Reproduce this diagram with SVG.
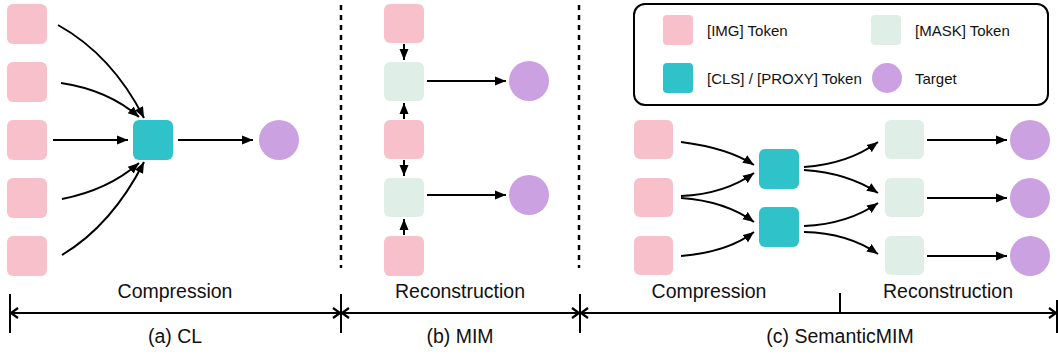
<svg xmlns="http://www.w3.org/2000/svg" width="1058" height="354" viewBox="0 0 1058 354">
<defs>
<style>
.img{fill:#F7C0CA}
.mask{fill:#DFEEE6}
.cls{fill:#2FC3C9}
.tgt{fill:#CBA1E1}
.t{font-family:"Liberation Sans",Arial,sans-serif;fill:#111}
.lbl{font-size:19.5px;text-anchor:middle}
.lg{font-size:15px}
.ar{fill:none;stroke:#000;stroke-width:2;marker-end:url(#ah)}
.dim{fill:none;stroke:#000;stroke-width:2}
.dash{stroke:#000;stroke-width:2.5;stroke-dasharray:5 5}
</style>
<marker id="ah" markerUnits="userSpaceOnUse" markerWidth="12" markerHeight="10" viewBox="0 0 12 10" refX="11" refY="5" orient="auto">
<path d="M0,0.5 L11,5 L0,9.5 Z" fill="#000"/>
</marker>
<marker id="ch" markerUnits="userSpaceOnUse" markerWidth="12" markerHeight="12" viewBox="0 0 12 12" refX="10" refY="6" orient="auto-start-reverse">
<path d="M3,1 L10,6 L3,11" fill="none" stroke="#000" stroke-width="2.2"/>
</marker>
</defs>
<rect width="1058" height="354" fill="#fff"/>

<g id="panel-a">
<rect class="img" x="7" y="4" width="40" height="40" rx="6"/>
<rect class="img" x="7" y="62" width="40" height="40" rx="6"/>
<rect class="img" x="7" y="120" width="40" height="40" rx="6"/>
<rect class="img" x="7" y="178" width="40" height="40" rx="6"/>
<rect class="img" x="7" y="236" width="40" height="40" rx="6"/>
<rect id="a-cls" class="cls" x="133" y="120" width="40" height="40" rx="6"/>
<circle id="a-tgt" class="tgt" cx="279" cy="140" r="20"/>
</g>

<g id="panel-b">
<rect class="img" x="384" y="4" width="40" height="39" rx="6"/>
<rect class="mask" x="384" y="62" width="40" height="39" rx="6"/>
<rect class="img" x="384" y="120" width="40" height="39" rx="6"/>
<rect class="mask" x="384" y="178" width="40" height="39" rx="6"/>
<rect class="img" x="384" y="236" width="40" height="40" rx="6"/>
<circle class="tgt" cx="529" cy="81" r="20"/>
<circle class="tgt" cx="529" cy="195" r="20"/>
</g>

<g id="panel-c">
<rect class="img" x="634" y="120" width="39" height="39" rx="6"/>
<rect class="img" x="634" y="178" width="39" height="39" rx="6"/>
<rect class="img" x="634" y="236" width="39" height="39" rx="6"/>
<rect class="cls" x="759" y="149" width="40" height="40" rx="6"/>
<rect class="cls" x="759" y="207" width="40" height="40" rx="6"/>
<rect class="mask" x="885" y="120" width="39" height="39" rx="6"/>
<rect class="mask" x="885" y="178" width="39" height="39" rx="6"/>
<rect class="mask" x="885" y="236" width="39" height="39" rx="6"/>
<circle class="tgt" cx="1030" cy="140" r="20"/>
<circle class="tgt" cx="1030" cy="198" r="20"/>
<circle class="tgt" cx="1030" cy="256" r="20"/>
</g>

<g id="legend">
<rect x="634" y="4" width="414" height="101" rx="11" fill="#fff" stroke="#000" stroke-width="2"/>
<rect class="img" x="663" y="15" width="30" height="30" rx="4"/>
<text class="t lg" x="707" y="36">[IMG] Token</text>
<rect class="mask" x="871" y="15" width="30" height="30" rx="4"/>
<text class="t lg" x="915" y="36">[MASK] Token</text>
<rect class="cls" x="663" y="63" width="30" height="30" rx="4"/>
<text class="t lg" x="707" y="84">[CLS] / [PROXY] Token</text>
<circle class="tgt" cx="887" cy="78" r="15"/>
<text class="t lg" x="915" y="84">Target</text>
</g>

<g id="connectors">
<path class="ar" d="M58,25 Q112,55 144,118"/>
<path class="ar" d="M61,83 Q108,90 139,117"/>
<path class="ar" d="M53,140 L128,140"/>
<path class="ar" d="M62,199 Q108,190 139,163"/>
<path class="ar" d="M62,255 Q112,225 144,162"/>
<path class="ar" d="M178,140 L253,140"/>

<path class="ar" d="M404,44 L404,60"/>
<path class="ar" d="M404,119 L404,103"/>
<path class="ar" d="M404,160 L404,176"/>
<path class="ar" d="M404,235 L404,219"/>
<path class="ar" d="M427,81 L506,81"/>
<path class="ar" d="M427,195 L506,195"/>

<path class="ar" d="M681,142 Q728,148 754,165"/>
<path class="ar" d="M681,196 Q725,194 754,173"/>
<path class="ar" d="M681,198 Q725,201 754,222"/>
<path class="ar" d="M681,256 Q728,252 754,232"/>
<path class="ar" d="M804,167 Q848,164 878,142"/>
<path class="ar" d="M804,170 Q848,173 878,193"/>
<path class="ar" d="M804,226 Q848,224 878,203"/>
<path class="ar" d="M804,232 Q848,233 878,254"/>
<path class="ar" d="M927,140 L1007,140"/>
<path class="ar" d="M927,198 L1007,198"/>
<path class="ar" d="M927,256 L1007,256"/>
</g>

<g id="dividers">
<line class="dash" x1="341" y1="5" x2="341" y2="268"/>
<line class="dash" x1="579" y1="5" x2="579" y2="268"/>
</g>

<g id="scale">
<line class="dim" x1="10" y1="294" x2="10" y2="333"/>
<line class="dim" x1="341" y1="294" x2="341" y2="333"/>
<line class="dim" x1="580" y1="294" x2="580" y2="333"/>
<line class="dim" x1="840" y1="293" x2="840" y2="313"/>
<line class="dim" x1="1057" y1="300" x2="1057" y2="333"/>
<line class="dim" x1="11" y1="313" x2="340" y2="313" marker-start="url(#ch)" marker-end="url(#ch)"/>
<line class="dim" x1="342" y1="313" x2="579" y2="313" marker-start="url(#ch)" marker-end="url(#ch)"/>
<line class="dim" x1="581" y1="313" x2="1056" y2="313" marker-start="url(#ch)" marker-end="url(#ch)"/>
<text class="t lbl" x="175" y="298">Compression</text>
<text class="t lbl" x="460" y="298">Reconstruction</text>
<text class="t lbl" x="709" y="298">Compression</text>
<text class="t lbl" x="948" y="298">Reconstruction</text>
<text class="t lbl" x="175" y="343">(a) CL</text>
<text class="t lbl" x="460" y="343">(b) MIM</text>
<text class="t lbl" x="840" y="343">(c) SemanticMIM</text>
</g>
</svg>
